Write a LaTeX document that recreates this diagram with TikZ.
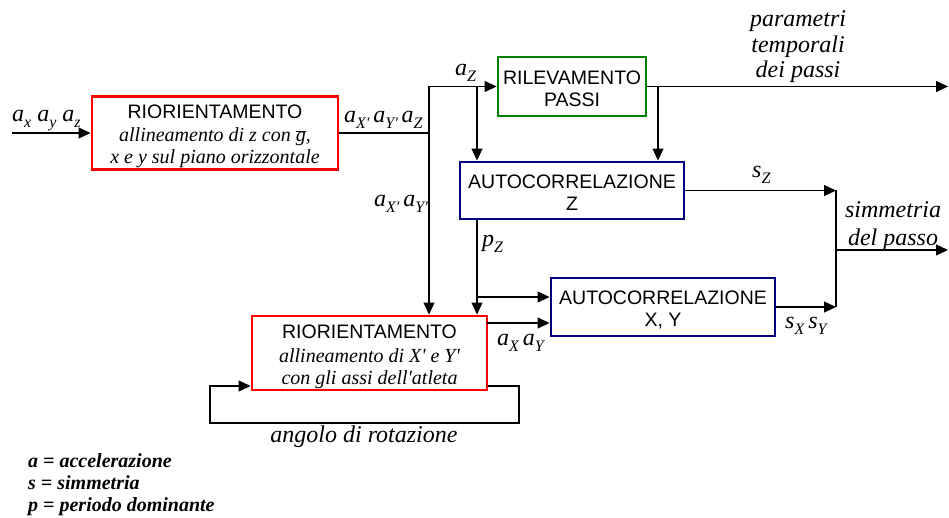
\documentclass[tikz,border=0pt]{standalone}
\usepackage{fontspec}
\setmainfont{Liberation Serif}
\newfontfamily\boxsans{Liberation Sans}
\usetikzlibrary{arrows.meta}

% variable with a lowered subscript (used inside italic labels)
\newcommand\lab[2]{#1\raisebox{-0.25em}{\fontsize{16}{16}\selectfont #2}}
\newcommand\qs{\textquotesingle}
\newcommand\ttlfont{\boxsans\fontsize{19.5}{23}\selectfont}

\definecolor{boxred}{RGB}{255,0,0}
\definecolor{boxgreen}{RGB}{0,128,0}
\definecolor{boxblue}{RGB}{0,0,128}

\tikzset{
  wire/.style={line width=1.1pt, draw=black},
  flow/.style={wire, -{Triangle[length=12pt,width=11pt]}},
  blk/.style={line width=2.9pt, inner sep=0pt},
  redblk/.style={blk, draw=boxred},
  greenblk/.style={blk, draw=boxgreen},
  blueblk/.style={blk, draw=boxblue},
  blktext/.style={align=center, inner sep=0pt, font=\fontsize{20}{22}\selectfont},
  sig/.style={inner sep=0pt, anchor=base west, font=\itshape\fontsize{24}{27}\selectfont},
  sigc/.style={inner sep=0pt, anchor=base, font=\itshape\fontsize{24}{27}\selectfont},
  legend/.style={inner sep=0pt, anchor=base west, font=\bfseries\itshape\fontsize{20}{22}\selectfont}
}

\begin{document}
\begin{tikzpicture}[x=1pt,y=-1pt]
\useasboundingbox (0,0) rectangle (949,518);

% processing blocks
\node[redblk, minimum width=246pt, minimum height=73pt] (r1) at (215,133) {};
\node[blktext, yshift=-3.5pt] (r1t) at (r1.center)
  {{\ttlfont RIORIENTAMENTO}\\[1.5pt]
   \itshape allineamento di z con \ensuremath{\overline{\hbox{\itshape g}}},\\
   \itshape x e y sul piano orizzontale};
\node[greenblk, minimum width=148pt, minimum height=59pt] (rp) at (572,86.5) {};
\node[blktext, yshift=-2.5pt] (rpt) at (rp.center)
  {{\ttlfont RILEVAMENTO}\\{\ttlfont PASSI}};
\node[blueblk, minimum width=224pt, minimum height=57pt] (az) at (572,190.5) {};
\node[blktext, yshift=-2pt] (azt) at (az.center)
  {{\ttlfont AUTOCORRELAZIONE}\\{\ttlfont Z}};
\node[blueblk, minimum width=224pt, minimum height=58pt] (axy) at (663,307) {};
\node[blktext, yshift=-3pt] (axyt) at (axy.center)
  {{\ttlfont AUTOCORRELAZIONE}\\{\ttlfont X, Y}};
\node[redblk, minimum width=235pt, minimum height=74pt] (r2) at (369.5,353) {};
\node[blktext, yshift=-4pt] (r2t) at (r2.center)
  {{\ttlfont RIORIENTAMENTO}\\[1.5pt]
   \itshape allineamento di X\qs{} e Y\qs\\
   \itshape con gli assi dell\qs atleta};

% routing points
\coordinate (in)   at (12,133);
\coordinate (colA) at (429,86.5);
\coordinate (colB) at (477,86.5);
\coordinate (colC) at (658,86.5);
\coordinate (outT) at (948,86.5);
\coordinate (colD) at (836,250);
\coordinate (outS) at (948,250);
\coordinate (pzb)  at (477,297);
\coordinate (r2o)  at (487,323);
\coordinate (lpA)  at (519,386);
\coordinate (lpB)  at (210,423);

% connectors
\draw[flow] (in) -- (r1.west);
\draw[flow] (r1.east) -| (colA) -- (rp.west);
\draw[flow] (r1.east -| colA) -- (colA |- r2.north);
\draw[flow] (colB) -- (colB |- az.north);
\draw[flow] (rp.east) -- (outT);
\draw[flow] (colC) -- (colC |- az.north);
\draw[flow] (az.east) -- (az.east -| colD);
\draw[wire] (colD |- az.east) -- (colD |- axy.east);
\draw[flow] (colD) -- (outS);
\draw[flow] (az.south -| colB) -- (colB |- r2.north);
\draw[flow] (pzb) -- (pzb -| axy.west);
\draw[flow] (r2o) -- (r2o -| axy.west);
\draw[flow] (axy.east) -- (axy.east -| colD);
\draw[flow] (lpA -| r2.east) -- (lpA) |- (lpB) |- (lpA -| r2.west);

% signal labels
\node[sig] (lin)  at (12,122)  {\lab{a}{x} \lab{a}{y} \lab{a}{z}};
\node[sig] (l1)   at (344,123) {\lab{a}{X\qs}\,\lab{a}{Y\qs}\,\lab{a}{Z}};
\node[sig] (laz)  at (455,76)  {\lab{a}{Z}};
\node[sig] (lxy)  at (374,207) {\lab{a}{X\qs}\,\lab{a}{Y\qs}};
\node[sig] (lpz)  at (482,247) {\lab{p}{Z}};
\node[sig] (lsz)  at (752,178) {\lab{s}{Z}};
\node[sig] (lsxy) at (785,328) {\lab{s}{X}\,\lab{s}{Y}};
\node[sig] (laxy) at (497,345) {\lab{a}{X}\,\lab{a}{Y}};
\node[sigc] (pt1) at (798,27) {parametri};
\node[sigc] (pt2) at (798,53) {temporali};
\node[sigc] (pt3) at (798,78) {dei passi};
\node[sigc] (sp1) at (893,218) {simmetria};
\node[sigc] (sp2) at (893,246) {del passo};
\node[sigc] (rot) at (364,442) {angolo di rotazione};

% legend
\node[legend] (lg1) at (28,467) {a = accelerazione};
\node[legend] (lg2) at (28,489) {s = simmetria};
\node[legend] (lg3) at (28,511) {p = periodo dominante};
\end{tikzpicture}
\end{document}
